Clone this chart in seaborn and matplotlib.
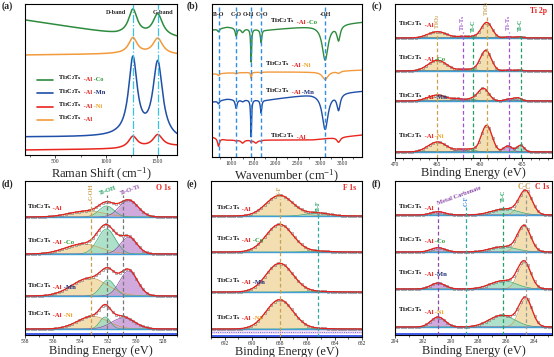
import numpy as np
import matplotlib
matplotlib.use('Agg')
import matplotlib.pyplot as plt
from matplotlib.ticker import MultipleLocator
import seaborn as sns

# ---------------- datos ----------------
# alturas en px medidas desde el eje inferior de cada panel

# (a) Raman  (orden: Co, Al, Mn, Ni de arriba a abajo)
raman_colors = ['#2e8b3e', '#f39a3c', '#1f4fa8', '#e8261e']
raman_base_x = [200, 1100, 1700]
raman_base = [[135, 121, 117], [100, 101, 100], [18, 18, 14], [5, 6, 9]]
raman_peak_x = [1265, 1510]          # banda D, banda G
raman_peak_w = [52, 58]              # semi-anchura
raman_peak_h = [[25, 22], [16, 16], [78, 76], [11.5, 12]]

# (b) FTIR  (orden: Co, Ni, Mn, Al)
ftir_colors = ['#2e8b3e', '#f39a3c', '#1f4fa8', '#e8261e']
ftir_base_x = [560, 900, 1800, 2800, 3950]
ftir_base = [[127, 130, 127, 131, 135], [83, 84, 85, 85, 87],
             [55, 58, 57, 63, 66], [20, 17, 17, 17, 22]]
ftir_dip_x = [707, 1106, 1250, 1444, 1550, 1669, 3117, 3420]
ftir_dip_w = [25, 25, 40, 12, 50, 18, 80, 45]
ftir_dip_h = [[3, 8, 4, 33, 0, 13, 35, 15], [2, 1, 0, 6, 0, 1, 8, 2],
              [3, 9, 2, 37, 0, 13, 36, 16], [8, 1, 3, 2, 3, 1, 0, 5]]
ftir_marks = [707, 1106, 1444, 1669, 3117]
ftir_mark_labels = ['Ti-O', 'C-O', 'O-H', 'C=O', '-OH']
ftir_label_x = [707, 1106, 1380, 1680, 3117]

# XPS (orden: Al, Al-Co, Al-Mn, Al-Ni de arriba a abajo)
ti_kinds = ['tan', 'pur', 'grn', 'tan', 'pur', 'grn']
ti_centers = [[465.0, 462.0, 460.8, 459.2, 456.6, 455.3],
              [465.0, 462.0, 460.8, 459.3, 456.6, 455.3],
              [465.0, 462.5, 461.0, 459.6, 456.5, 455.5],
              [465.0, 462.2, 461.0, 459.2, 456.7, 455.2]]
ti_heights = [[6.3, 1.5, 1.2, 15.7, 1.2, 1.2],
              [10.7, 1.5, 1.5, 20.7, 1.0, 1.0],
              [6.0, 2.0, 2.0, 12.7, 2.0, 3.0],
              [10.0, 2.5, 2.5, 26.7, 6.0, 6.7]]
ti_fwhm = [2.6, 1.4, 1.2, 1.5, 1.2, 1.0]
ti_base = [120, 87, 57, 6]

o_kinds = ['tan', 'grn', 'pur']
o_centers = [[533.5, 532.1, 530.5], [533.8, 532.1, 530.5],
             [533.3, 532.0, 530.5], [533.1, 532.2, 530.9]]
o_heights = [[6, 11, 16.7], [10, 25, 16.7], [18, 16, 25], [12.7, 12, 11]]
o_fwhm = [[3.0, 1.3, 1.6], [3.0, 1.5, 1.4], [3.0, 1.2, 1.5], [2.6, 0.9, 2.0]]
o_base = [118, 81, 39, 6]

f_kinds = ['tan', 'grn']
f_centers = [[688.0, 685.2], [688.0, 685.2], [688.0, 685.2], [688.0, 685.2]]
f_heights = [[20.7, 3.0], [27.7, 0.8], [28.7, 0.5], [29.3, 0.5]]
f_fwhm = [2.3, 2.0]
f_base = [121, 85, 45, 8]

c_kinds = ['tan', 'grn', 'pur']
c_centers = [[284.6, 286.1, 290.9], [284.7, 286.2, 290.9],
             [284.7, 286.2, 290.9], [284.6, 286.3, 290.9]]
c_heights = [[23.3, 6, 3.3], [25.3, 5.3, 4.3], [26, 8.3, 6], [27.7, 11.7, 10]]
c_fwhm = [1.1, 2.2, 1.2]
c_base = [120, 83, 46, 8]

# ---------------- estilo ----------------
sns.set_theme(style='ticks')
plt.rcParams['font.family'] = ['Liberation Serif', 'DejaVu Serif']
plt.rcParams['mathtext.fontset'] = 'custom'
plt.rcParams['mathtext.rm'] = 'Liberation Serif'
plt.rcParams['mathtext.bf'] = 'Liberation Serif:bold'
plt.rcParams['mathtext.it'] = 'Liberation Serif:italic'

FILL = {'tan': '#f1d9a4', 'grn': '#9fdcc0', 'pur': '#c99bd8'}
EDGE = {'tan': '#caa15a', 'grn': '#3aa878', 'pur': '#8a4aa8'}
RED = '#e8201c'
CO_C, MN_C, NI_C = '#2e9a3a', '#1c2f78', '#f0a020'
TI = r'Ti$_{\mathbf{3}}$C$_{\mathbf{2}}$T$_{\mathbf{x}}$'
TAGS = {'Al': [(TI, 'black'), (' -Al', RED)],
        'Co': [(TI, 'black'), (' -Al', RED), (' -Co', CO_C)],
        'Mn': [(TI, 'black'), (' -Al', RED), (' -Mn', MN_C)],
        'Ni': [(TI, 'black'), (' -Al', RED), (' -Ni', NI_C)]}

W, H = 554, 357
fig = plt.figure(figsize=(W / 100, H / 100), dpi=100)


def px_axes(l, t, r, b):
    ax = fig.add_axes([l / W, 1 - b / H, (r - l) / W, (b - t) / H])
    ax.set_ylim(0, b - t)
    ax.set_yticks([])
    for s in ax.spines.values():
        s.set_linewidth(0.8)
        s.set_color('black')
    ax.tick_params(axis='x', which='major', direction='out', length=2, width=0.6,
                   labelsize=4, pad=1.2)
    ax.tick_params(axis='x', which='minor', direction='out', length=1.2, width=0.5)
    return ax


def tag(ax, x, y, key, fs=4.8):
    parts = TAGS[key]
    prev = ax.text(x, y, parts[0][0], color=parts[0][1], transform=ax.get_yaxis_transform(),
                   fontsize=fs, fontweight='bold', va='bottom', ha='left')
    for s, c in parts[1:]:
        prev = ax.annotate(s, xy=(1, 0), xycoords=prev, xytext=(0, 0), textcoords='offset points',
                           fontsize=fs, fontweight='bold', color=c, va='bottom', ha='left')


def gauss(x, c, h, w):
    return h * np.exp(-4 * np.log(2) * (x - c) ** 2 / w ** 2)


def lorentz(x, c, h, w):
    return h / (1 + ((x - c) / w) ** 2)


def xps(ax, xl, xr, centers, heights, fwhm, kinds, bases):
    x = np.linspace(xr, xl, 600)
    xm = np.linspace(xr, xl, 46)
    fw = np.broadcast_to(np.asarray(fwhm, float), np.shape(heights))
    for i, b in enumerate(bases):
        env = np.zeros_like(x)
        envm = np.zeros_like(xm)
        for c, h, w, k in zip(centers[i], heights[i], fw[i], kinds):
            g = gauss(x, c, h, w)
            ax.fill_between(x, b, b + g, color=FILL[k], alpha=0.85, lw=0)
            ax.plot(x, b + g, color=EDGE[k], lw=0.5)
            env += g
            envm += gauss(xm, c, h, w)
        ax.plot(x, np.full_like(x, b), color='#3f9fd6', lw=1.0)
        ax.plot(xm, b + envm, 'o', ms=1.8, mfc='none', mec='#777777', mew=0.4)
        sns.lineplot(x=x, y=b + env, ax=ax, color=RED, lw=0.9, sort=False, estimator=None)
    ax.set_xlim(xl, xr)
    ax.set_ylabel('Intensity (a.u.)', fontsize=10.5)
    ax.set_xlabel('Binding Energy (eV)', fontsize=8.8)


# ---------------- (a) Raman ----------------
ax = px_axes(25, 4, 177, 155)
x = np.linspace(200, 1700, 800)
for i, col in enumerate(raman_colors):
    y = np.interp(x, raman_base_x, raman_base[i])
    for c, w, h in zip(raman_peak_x, raman_peak_w, raman_peak_h[i]):
        y = y + lorentz(x, c, h, w)
    sns.lineplot(x=x, y=y, ax=ax, color=col, lw=1.1, estimator=None)
for c in raman_peak_x:
    ax.axvline(c, color='#37c3e6', lw=0.9, ls='-.')
ax.text(1100, 143, 'D-band', fontsize=4.5, fontweight='bold', ha='center', va='center')
ax.text(1560, 143, 'G-band', fontsize=4.5, fontweight='bold', ha='center', va='center')
ax.set_xlim(200, 1700)
ax.set_xticks([500, 1000, 1500])
ax.xaxis.set_minor_locator(MultipleLocator(250))
leg = [(75, '#2e8b3e', 'Co'), (61.7, '#1f4fa8', 'Mn'), (48.3, '#e8261e', 'Ni'), (35, '#f39a3c', 'Al')]
for yy, col, key in leg:
    ax.plot([0.079, 0.184], [yy, yy], color=col, lw=1.2, transform=ax.get_yaxis_transform())
    tag(ax, 0.217, yy - 2.2, key, fs=4.6)
ax.set_ylabel('Intensity (a.u.)', fontsize=10.5)
ax.set_xlabel('Raman Shift (cm$^{-1}$)', fontsize=9)
ax.yaxis.set_label_coords(-0.08, 0.5)
ax.xaxis.set_label_coords(0.5, -0.07)

# ---------------- (b) FTIR ----------------
ax = px_axes(212, 4, 362, 157)
x = np.linspace(560, 3950, 1500)
for i, col in enumerate(ftir_colors):
    y = np.interp(x, ftir_base_x, ftir_base[i])
    for c, w, h in zip(ftir_dip_x, ftir_dip_w, ftir_dip_h[i]):
        y = y - lorentz(x, c, h, w)
    sns.lineplot(x=x, y=y, ax=ax, color=col, lw=1.0, estimator=None)
for c in ftir_marks:
    ax.axvline(c, color='#2f8fe8', lw=1.0, ls=(0, (3, 2)))
for lx, lab in zip(ftir_label_x, ftir_mark_labels):
    ax.text(lx, 142, lab, fontsize=4.4, fontweight='bold', ha='center', va='center')
tag(ax, 0.385, 132, 'Co')
tag(ax, 0.353, 89, 'Ni')
tag(ax, 0.353, 62, 'Mn')
tag(ax, 0.387, 17, 'Al')
ax.set_xlim(560, 3950)
ax.set_xticks([1000, 1500, 2000, 2500, 3000, 3500])
ax.xaxis.set_minor_locator(MultipleLocator(250))
ax.set_ylabel('Transmittance (a.u.)', fontsize=10)
ax.set_xlabel('Wavenumber (cm$^{-1}$)', fontsize=9)
ax.yaxis.set_label_coords(-0.1, 0.5)
ax.xaxis.set_label_coords(0.5, -0.07)

# ---------------- (c) Ti 2p ----------------
ax = px_axes(395, 4, 552, 158)
xps(ax, 470, 451.5, ti_centers, ti_heights, ti_fwhm, ti_kinds, ti_base)
for c, col, top, lab, ly in [(465.0, '#c8a050', 126, 'TiO$_\\mathbf{2}$', 137),
                              (462.0, '#a050d0', 126, 'Ti-T$_\\mathbf{x}$', 135),
                              (460.8, '#20a060', 123, 'Ti-C', 132),
                              (459.2, '#c8a050', 141, 'TiO$_\\mathbf{2}$', 150),
                              (456.6, '#a050d0', 126, 'Ti-T$_\\mathbf{x}$', 135),
                              (455.2, '#20a060', 124, 'Ti-C', 133)]:
    ax.vlines(c, 0, top, colors=col, lw=0.9, linestyles=(0, (3, 2)))
    ax.text(c, ly, lab, color=col, fontsize=4.6, fontweight='bold', rotation=90,
            ha='center', va='center')
ax.text(0.97, 0.955, 'Ti 2p', color=RED, fontsize=5.5, fontweight='bold',
        transform=ax.transAxes, ha='right', va='center')
for yy, key in [(130, 'Al'), (96, 'Co'), (58, 'Mn'), (18.5, 'Ni')]:
    tag(ax, 0.02, yy, key)
ax.set_xticks([470, 465, 460, 455])
ax.xaxis.set_minor_locator(MultipleLocator(1))
ax.set_xlabel('Binding Energy (eV)', fontsize=9)
ax.yaxis.set_label_coords(-0.076, 0.5)
ax.xaxis.set_label_coords(0.5, -0.06)

# ---------------- (d) O 1s ----------------
ax = px_axes(25, 181, 177, 335)
xps(ax, 538, 527, o_centers, o_heights, o_fwhm, o_kinds, o_base)
ax.axhline(1.2, color='#2040e8', lw=1.2)
for c, col, top in [(533.2, '#c8a050', 134), (532.1, '#777777', 140), (530.9, '#777777', 140)]:
    ax.vlines(c, 0, top, colors=col, lw=0.9, linestyles=(0, (3, 2)))
ax.text(533.2, 143, 'C-OH', color='#c8a050', fontsize=4.6, fontweight='bold', rotation=90,
        ha='center', va='center')
ax.text(532.0, 144, 'Ti-OH', color='#20a060', fontsize=4.6, fontweight='bold', rotation=20,
        ha='center', va='center')
ax.text(530.4, 145, 'Ti-O-Ti', color='#8a4aa8', fontsize=4.6, fontweight='bold', rotation=20,
        ha='center', va='center')
ax.text(0.96, 0.955, 'O 1s', color=RED, fontsize=5.5, fontweight='bold',
        transform=ax.transAxes, ha='right', va='center')
for yy, key in [(124, 'Al'), (90, 'Co'), (45, 'Mn'), (17, 'Ni')]:
    tag(ax, 0.01, yy, key)
ax.set_xticks([538, 536, 534, 532, 530, 528])
ax.xaxis.set_minor_locator(MultipleLocator(1))
ax.yaxis.set_label_coords(-0.08, 0.5)
ax.xaxis.set_label_coords(0.5, -0.068)

# ---------------- (e) F 1s ----------------
ax = px_axes(211, 181, 362, 337)
xps(ax, 693, 682, f_centers, f_heights, f_fwhm, f_kinds, f_base)
ax.fill_between([693, 682], 2.5, 7.5, color='#f3d6f0', lw=0, alpha=0.8)
ax.axhline(1.2, color='#2040e8', lw=1.2)
ax.axhline(5.5, color='#3050f0', lw=0.6, ls=':')
ax.vlines(688.0, 0, 138, colors='#c8a050', lw=0.9, linestyles=(0, (3, 2)))
ax.vlines(685.2, 0, 124, colors='#30a8a0', lw=0.9, linestyles=(0, (3, 2)))
ax.text(688.0, 146, 'C-F', color='#c8a050', fontsize=4.6, fontweight='bold', rotation=90,
        ha='center', va='center')
ax.text(685.2, 131, 'Ti-F', color='#20a060', fontsize=4.6, fontweight='bold', rotation=90,
        ha='center', va='center')
ax.text(0.96, 0.955, 'F 1s', color=RED, fontsize=5.5, fontweight='bold',
        transform=ax.transAxes, ha='right', va='center')
for yy, key in [(125, 'Al'), (94, 'Co'), (52, 'Mn'), (15.5, 'Ni')]:
    tag(ax, 0.03, yy, key)
ax.set_xticks([692, 690, 688, 686, 684, 682])
ax.xaxis.set_minor_locator(MultipleLocator(1))
ax.yaxis.set_label_coords(-0.086, 0.5)
ax.xaxis.set_label_coords(0.5, -0.058)

# ---------------- (f) C 1s ----------------
ax = px_axes(395, 181, 552, 335)
xps(ax, 294, 282.7, c_centers, c_heights, c_fwhm, c_kinds, c_base)
ax.axhline(1.2, color='#2040e8', lw=1.2)
for c, col, top in [(290.9, '#8a4aa8', 128), (288.9, '#30a8a0', 128), (286.2, '#20a060', 130),
                    (284.6, '#999999', 140)]:
    ax.vlines(c, 0, top, colors=col, lw=0.9, linestyles=(0, (3, 2)))
ax.text(289.4, 139, 'Metal Carbonate', color='#8a4aa8', fontsize=4.6, fontweight='bold',
        rotation=20, ha='center', va='center')
ax.text(288.9, 134, 'C-F', color='#3090e0', fontsize=4.6, fontweight='bold', rotation=90,
        ha='center', va='center')
ax.text(286.2, 139, 'Ti-C', color='#20a060', fontsize=4.6, fontweight='bold', rotation=90,
        ha='center', va='center')
ax.text(284.7, 148, 'C-C', color='#c8a050', fontsize=5.5, fontweight='bold',
        ha='center', va='center')
ax.text(283.4, 148, 'C 1s', color=RED, fontsize=5.5, fontweight='bold',
        ha='center', va='center')
for yy, key in [(124, 'Al'), (91, 'Co'), (58, 'Mn'), (20.5, 'Ni')]:
    tag(ax, 0.02, yy, key)
ax.set_xticks([294, 292, 290, 288, 286, 284])
ax.xaxis.set_minor_locator(MultipleLocator(1))
ax.yaxis.set_label_coords(-0.083, 0.5)
ax.xaxis.set_label_coords(0.5, -0.068)

for lab, (px, py) in zip('abcdef', [(2, 1), (187, 1), (372, 1), (2, 179), (187, 179), (372, 179)]):
    fig.text(px / W, 1 - py / H, f'({lab})', fontsize=7, fontweight='bold', va='top', ha='left')

fig.savefig('out.png', dpi=100)
